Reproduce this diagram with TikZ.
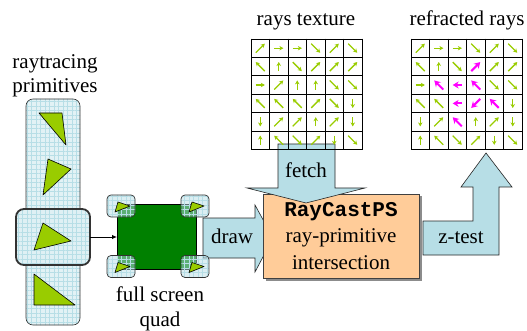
\documentclass[tikz,border=0pt]{standalone}
\usepackage{fontspec}
\setmainfont{Liberation Serif}
\setmonofont{Liberation Mono}
\usetikzlibrary{arrows.meta,shadows,patterns.meta}
\definecolor{lb}{RGB}{183,222,230}
\definecolor{orbox}{RGB}{255,204,153}
\definecolor{trigreen}{RGB}{153,204,0}
\definecolor{qgreen}{RGB}{0,128,0}
\definecolor{mag}{RGB}{255,0,255}
\newcommand\raygrid[3]{%
  \foreach \rowlist [count=\r] in {#3} {
    \foreach \a/\m [count=\c] in \rowlist {
      \pgfmathsetmacro\L{mod(\a,90)==0 ? 4.6 : 6.4}
      \pgfmathsetmacro\cx{#1+(\c-0.5)*18.5}
      \pgfmathsetmacro\cy{#2+(\r-0.5)*18.4}
      \ifnum\m=1
        \draw[marr] ({\cx-\L*cos(\a)},{\cy+\L*sin(\a)}) -- ({\cx+\L*cos(\a)},{\cy-\L*sin(\a)});
      \else
        \draw[garr] ({\cx-\L*cos(\a)},{\cy+\L*sin(\a)}) -- ({\cx+\L*cos(\a)},{\cy-\L*sin(\a)});
      \fi
    }
  }
  \foreach \i in {0,...,6} {
    \draw[cellline] ({#1+\i*18.5},#2) -- ({#1+\i*18.5},{#2+6*18.4});
    \draw[cellline] (#1,{#2+\i*18.4}) -- ({#1+6*18.5},{#2+\i*18.4});
  }
}
\begin{document}
\begin{tikzpicture}[x=1pt,y=-1pt,
  every node/.style={inner sep=0pt, outer sep=0pt},
  txt/.style={font=\fontsize{21}{24.5}\selectfont, align=center},
  blockarrow/.style={fill=lb, draw=black!85, line width=0.6pt, line join=miter},
  gridded/.style={postaction={pattern={Lines[distance=4.5pt,line width=0.35pt]},pattern color=#1},
                  postaction={pattern={Lines[angle=90,distance=4.5pt,line width=0.35pt]},pattern color=#1}},
  border/.style={postaction={draw=black!80, draw opacity=1, line width=#1}},
  garr/.style={draw=trigreen, line width=1.3pt, -{Stealth[length=4pt,width=4.5pt]}},
  marr/.style={draw=mag, line width=2pt, -{Stealth[length=6pt,width=7pt]}},
  cellline/.style={draw=black, line width=0.9pt, line cap=rect},
  trishape/.style={fill=trigreen, draw=black, line width=0.6pt, line join=round},
  cornerbox/.style={rounded corners=4pt, fill=lb, fill opacity=0.5,
                    minimum width=28pt, minimum height=22pt, gridded=lb, border=0.7pt},
]
\useasboundingbox (0,0) rectangle (527,331);

% titles
\node[txt, anchor=base] (t1) at (306,25.5) {rays texture};
\node[txt, anchor=base] (t2) at (467,26) {refracted rays};
\node[txt] (prim) at (55,76) {raytracing\\primitives};
\node[txt] (fsq) at (160,309) {full screen\\quad};

% primitives column
\node[rounded corners=7pt, fill=lb!40, gridded=lb, border=0.6pt,
      minimum width=54pt, minimum height=226pt] (col) at (53,212) {};
\node[rounded corners=8pt, fill=lb!45, gridded=lb, border=1.8pt,
      minimum width=74pt, minimum height=56pt] (sel) at (53,237) {};
\filldraw[trishape] (39,113) -- (62,113) -- (66,145) -- cycle;
\filldraw[trishape] (48,159) -- (71,169) -- (43,195) -- cycle;
\filldraw[trishape] (43,223) -- (71,241) -- (34,250) -- cycle;
\filldraw[trishape] (34,274) -- (75,305) -- (34,305) -- cycle;

% draw arrow
\filldraw[blockarrow] (203,218) -- (255,218) -- (255,205) -- (273,238) -- (255,272) -- (255,258) -- (203,258) -- cycle;

% quad
\node[draw=black, line width=1pt, fill=qgreen, minimum width=79pt, minimum height=65pt] (quad) at (156.5,236.5) {};
\foreach \n/\px/\py in {c1/121/206, c2/195/206, c3/121/266.5, c4/195/266.5} {
  \node[cornerbox] (\n) at (\px,\py) {};
  \filldraw[trishape] ([shift={(-6,6)}]\n.center) -- ([shift={(-3,-4)}]\n.center) -- ([shift={(9,0)}]\n.center) -- cycle;
}
\draw[line width=0.9pt, -{Latex[length=5pt,width=4.5pt]}] (sel.east) -- (sel.east -| quad.west);

% RayCastPS box
\node[txt, fill=orbox, draw=black!75, line width=0.6pt, minimum width=156pt, minimum height=84pt,
      font=\fontsize{21}{26.5}\selectfont,
      drop shadow={shadow xshift=2.5pt, shadow yshift=-2.5pt, fill=black!45, opacity=1}] (ray) at (341,236)
      {\texttt{\bfseries RayCastPS}\\ray-primitive\\intersection};

% fetch arrow
\filldraw[blockarrow] (278,144) -- (335,144) -- (335,188) -- (365,188) -- (306,203) -- (247,188) -- (278,188) -- cycle;
% z-test arrow
\filldraw[blockarrow] (423,255) -- (423,221) -- (473,221) -- (473,187) -- (461,187) -- (486,153) -- (512,187) -- (499,187) -- (499,255) -- cycle;

\node[txt, anchor=base] (lfetch) at (306,178) {fetch};
\node[txt, anchor=base] (ldraw) at (232,243) {draw};
\node[txt, anchor=base] (lz) at (461,243) {z-test};

% textures
\raygrid{251}{39}{{45/0,0/0,0/0,315/0,45/0,315/0},{135/0,90/0,315/0,45/0,45/0,45/0},{0/0,45/0,90/0,90/0,315/0,315/0},{135/0,135/0,135/0,45/0,315/0,270/0},{270/0,45/0,45/0,90/0,45/0,270/0},{90/0,135/0,315/0,45/0,270/0,315/0}}
\raygrid{411}{39}{{45/0,0/0,0/0,315/0,45/0,315/0},{135/0,90/0,315/0,45/1,45/0,45/0},{0/0,135/1,180/1,135/1,315/0,315/0},{135/0,135/0,180/1,225/1,135/1,270/0},{270/0,45/0,135/1,90/0,45/0,270/0},{90/0,135/0,315/0,45/0,270/0,315/0}}
\end{tikzpicture}
\end{document}
